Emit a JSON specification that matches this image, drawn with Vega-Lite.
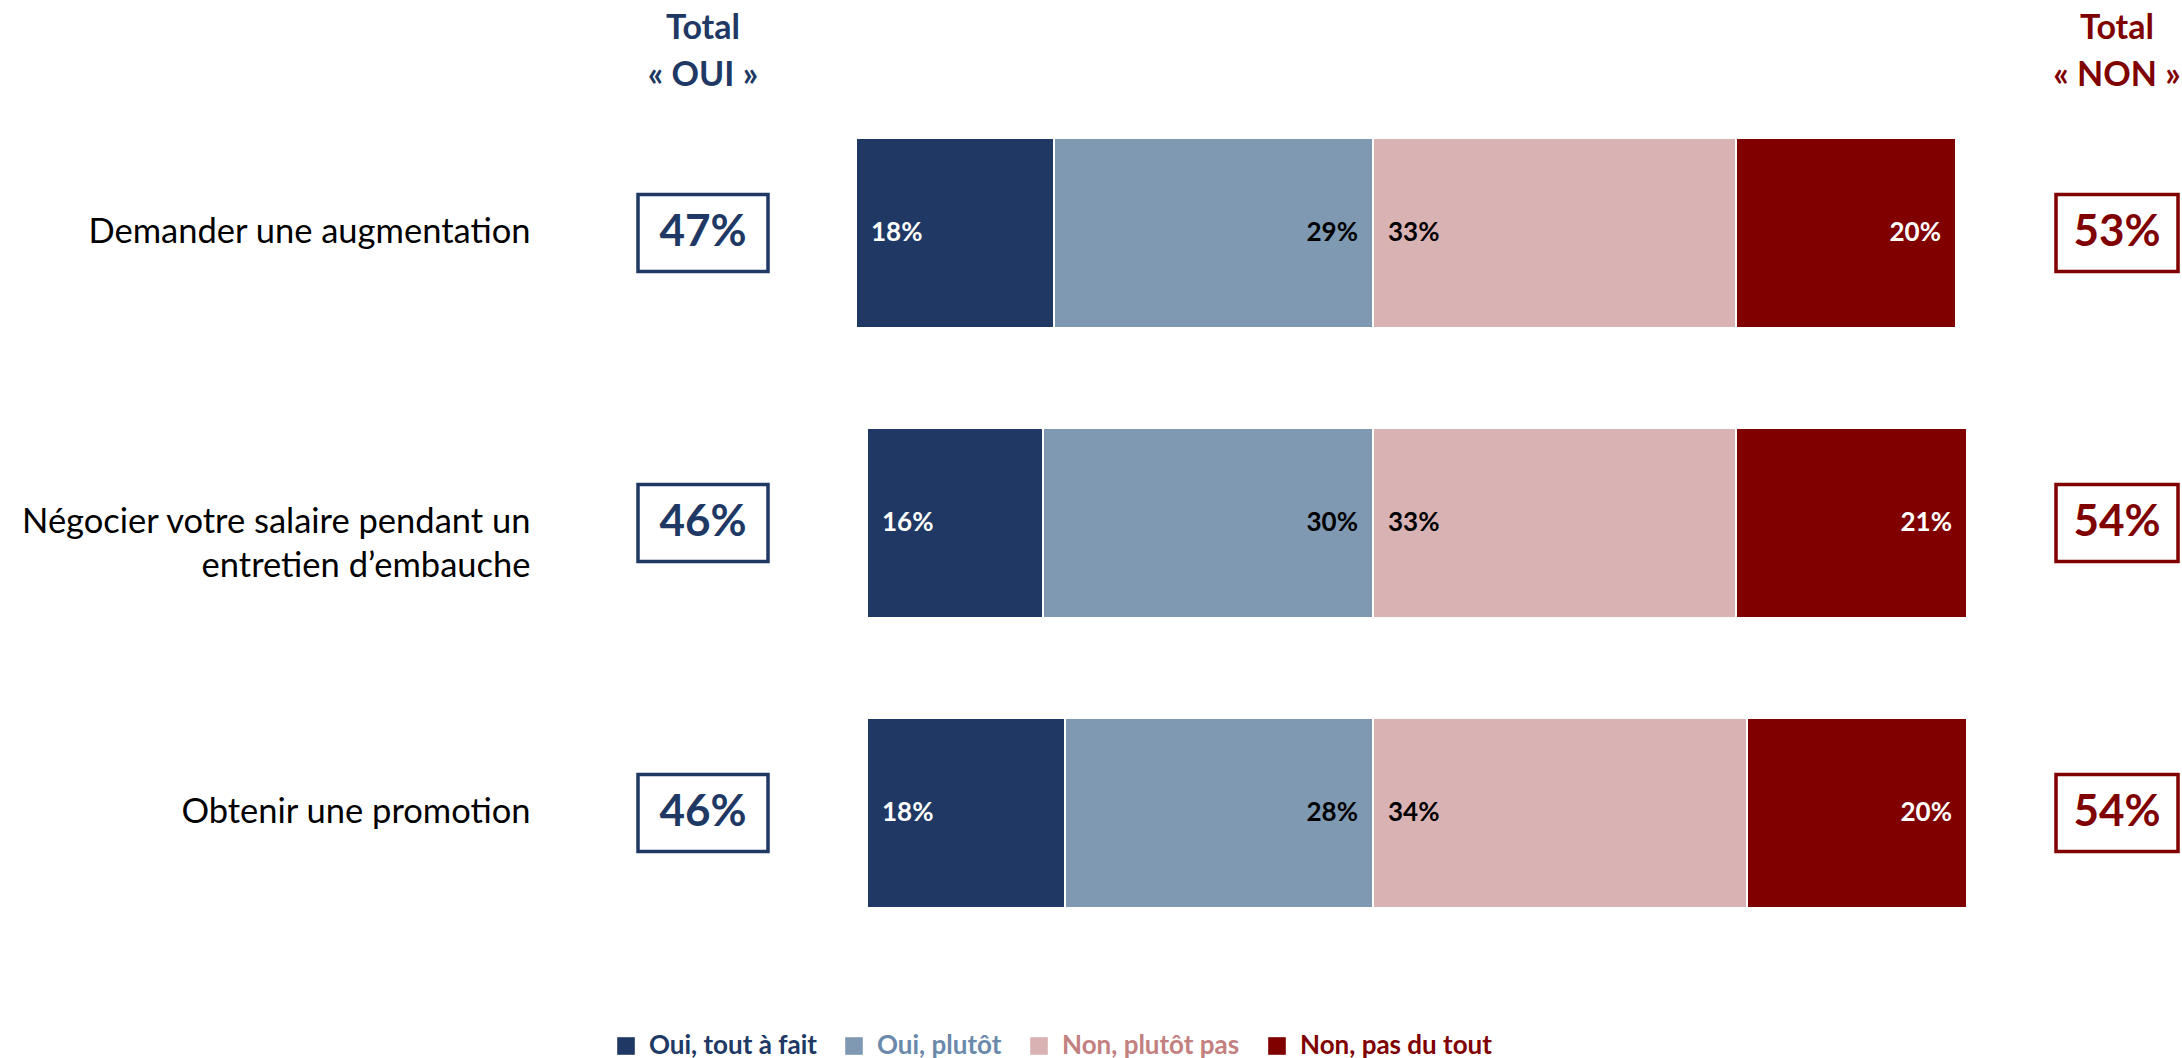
{
  "$schema": "https://vega.github.io/schema/vega-lite/v6.json",
  "background": "white",
  "padding": {"left": 0, "top": 12, "right": 0, "bottom": 0},
  "config": {
    "font": "Lato",
    "view": {"stroke": null},
    "concat": {"spacing": 85},
    "legend": {
      "title": null, "orient": "none", "legendX": -25, "legendY": 920, "direction": "horizontal",
      "symbolType": "square", "symbolSize": 310, "symbolStrokeWidth": 0,
      "labelFontSize": 26, "labelFontWeight": "bold", "labelOffset": 10, "columnPadding": 24, "labelLimit": 400
    }
  },
  "datasets": {
    "totals": [
      {"question": "Demander une augmentation", "oui": 47, "non": 53},
      {"question": "Négocier votre salaire pendant un entretien d’embauche", "oui": 46, "non": 54},
      {"question": "Obtenir une promotion", "oui": 46, "non": 54}
    ],
    "detail": [
      {"question": "Demander une augmentation", "side": "Oui", "category": "Oui, tout à fait", "value": 18},
      {"question": "Demander une augmentation", "side": "Oui", "category": "Oui, plutôt", "value": 29},
      {"question": "Demander une augmentation", "side": "Non", "category": "Non, plutôt pas", "value": 33},
      {"question": "Demander une augmentation", "side": "Non", "category": "Non, pas du tout", "value": 20},
      {"question": "Négocier votre salaire pendant un entretien d’embauche", "side": "Oui", "category": "Oui, tout à fait", "value": 16},
      {"question": "Négocier votre salaire pendant un entretien d’embauche", "side": "Oui", "category": "Oui, plutôt", "value": 30},
      {"question": "Négocier votre salaire pendant un entretien d’embauche", "side": "Non", "category": "Non, plutôt pas", "value": 33},
      {"question": "Négocier votre salaire pendant un entretien d’embauche", "side": "Non", "category": "Non, pas du tout", "value": 21},
      {"question": "Obtenir une promotion", "side": "Oui", "category": "Oui, tout à fait", "value": 18},
      {"question": "Obtenir une promotion", "side": "Oui", "category": "Oui, plutôt", "value": 28},
      {"question": "Obtenir une promotion", "side": "Non", "category": "Non, plutôt pas", "value": 34},
      {"question": "Obtenir une promotion", "side": "Non", "category": "Non, pas du tout", "value": 20}
    ]
  },
  "hconcat": [
    {
      "width": 130,
      "height": 820,
      "data": {"name": "totals"},
      "transform": [{"calculate": "datum.oui + '%'", "as": "label"}],
      "title": {"text": ["Total", "« OUI »"], "color": "#203864", "fontSize": 34, "fontWeight": "bold", "lineHeight": 47, "offset": 20, "anchor": "middle"},
      "encoding": {
        "y": {
          "field": "question", "type": "nominal", "sort": null,
          "scale": {"domain": ["Demander une augmentation", "Négocier votre salaire pendant un entretien d’embauche", "Obtenir une promotion"], "paddingInner": 0.345, "paddingOuter": 0.086},
          "axis": {
            "title": null, "domain": false, "ticks": false,
            "labelPadding": 108, "labelFontSize": 34.5, "labelColor": "black", "labelAlign": "right",
            "labelLimit": 1000, "labelLineHeight": 44, "minExtent": 638, "maxExtent": 638,
            "labelExpr": "datum.value === 'Négocier votre salaire pendant un entretien d’embauche' ? ['Négocier votre salaire pendant un', 'entretien d’embauche'] : datum.label"
          }
        }
      },
      "layer": [
        {"mark": {"type": "bar", "orient": "horizontal", "fill": "white", "stroke": "#203864", "strokeWidth": 3.5, "size": 77}},
        {"mark": {"type": "text", "fontSize": 44, "fontWeight": "bold", "color": "#203864", "baseline": "middle"}, "encoding": {"text": {"field": "label"}}}
      ]
    },
    {
      "width": 1111,
      "height": 820,
      "data": {"name": "detail"},
      "encoding": {
        "y": {
          "field": "question", "type": "nominal", "sort": null,
          "scale": {"domain": ["Demander une augmentation", "Négocier votre salaire pendant un entretien d’embauche", "Obtenir une promotion"], "paddingInner": 0.345, "paddingOuter": 0.086},
          "axis": null
        }
      },
      "layer": [
        {
          "transform": [
            {"filter": "datum.side === 'Oui'"},
            {"stack": "value", "groupby": ["question"], "sort": [{"field": "category", "order": "ascending"}], "as": ["s0", "s1"]},
            {"calculate": "datum.value + '%'", "as": "label"}
          ],
          "layer": [
            {
              "mark": {"type": "bar", "stroke": "white", "strokeWidth": 2},
              "encoding": {
                "x": {"field": "s0", "type": "quantitative", "scale": {"domain": [-54, 47], "reverse": true, "nice": false, "zero": false}, "axis": null},
                "x2": {"field": "s1"},
                "color": {
                  "field": "category", "type": "nominal",
                  "scale": {"domain": ["Oui, tout à fait", "Oui, plutôt", "Non, plutôt pas", "Non, pas du tout"], "range": ["#203864", "#7f99b2", "#d9b3b3", "#800000"]},
                  "legend": {
                    "labelColor": {"expr": "datum.value === 'Oui, tout à fait' ? '#203864' : datum.value === 'Oui, plutôt' ? '#6a89ab' : datum.value === 'Non, plutôt pas' ? '#c2807f' : '#800000'"}
                  }
                }
              }
            },
            {
              "transform": [{"filter": "datum.category === 'Oui, tout à fait'"}],
              "mark": {"type": "text", "align": "left", "dx": 15, "fontSize": 26, "fontWeight": "bold", "color": "white", "baseline": "middle"},
              "encoding": {"x": {"field": "s1", "type": "quantitative"}, "text": {"field": "label"}}
            },
            {
              "transform": [{"filter": "datum.category === 'Oui, plutôt'"}],
              "mark": {"type": "text", "align": "right", "dx": -15, "fontSize": 26, "fontWeight": "bold", "color": "black", "baseline": "middle"},
              "encoding": {"x": {"field": "s0", "type": "quantitative"}, "text": {"field": "label"}}
            }
          ]
        },
        {
          "transform": [
            {"filter": "datum.side === 'Non'"},
            {"stack": "value", "groupby": ["question"], "sort": [{"field": "category", "order": "descending"}], "as": ["s0", "s1"]},
            {"calculate": "datum.value + '%'", "as": "label"}
          ],
          "layer": [
            {
              "mark": {"type": "bar", "stroke": "white", "strokeWidth": 2},
              "encoding": {
                "x": {"field": "s0", "type": "quantitative", "scale": {"domain": [-47, 54], "nice": false, "zero": false}, "axis": null},
                "x2": {"field": "s1"},
                "color": {
                  "field": "category", "type": "nominal",
                  "legend": {
                    "labelColor": {"expr": "datum.value === 'Oui, tout à fait' ? '#203864' : datum.value === 'Oui, plutôt' ? '#6a89ab' : datum.value === 'Non, plutôt pas' ? '#c2807f' : '#800000'"}
                  }
                }
              }
            },
            {
              "transform": [{"filter": "datum.category === 'Non, plutôt pas'"}],
              "mark": {"type": "text", "align": "left", "dx": 15, "fontSize": 26, "fontWeight": "bold", "color": "black", "baseline": "middle"},
              "encoding": {"x": {"field": "s0", "type": "quantitative"}, "text": {"field": "label"}}
            },
            {
              "transform": [{"filter": "datum.category === 'Non, pas du tout'"}],
              "mark": {"type": "text", "align": "right", "dx": -15, "fontSize": 26, "fontWeight": "bold", "color": "white", "baseline": "middle"},
              "encoding": {"x": {"field": "s1", "type": "quantitative"}, "text": {"field": "label"}}
            }
          ]
        }
      ],
      "resolve": {"scale": {"x": "independent"}}
    },
    {
      "width": 122,
      "height": 820,
      "data": {"name": "totals"},
      "transform": [{"calculate": "datum.non + '%'", "as": "label"}],
      "title": {"text": ["Total", "« NON »"], "color": "#800000", "fontSize": 34, "fontWeight": "bold", "lineHeight": 47, "offset": 20, "anchor": "middle"},
      "encoding": {
        "y": {
          "field": "question", "type": "nominal", "sort": null,
          "scale": {"domain": ["Demander une augmentation", "Négocier votre salaire pendant un entretien d’embauche", "Obtenir une promotion"], "paddingInner": 0.345, "paddingOuter": 0.086},
          "axis": null
        }
      },
      "layer": [
        {"mark": {"type": "bar", "orient": "horizontal", "fill": "white", "stroke": "#800000", "strokeWidth": 3.5, "size": 77}},
        {"mark": {"type": "text", "fontSize": 44, "fontWeight": "bold", "color": "#800000", "baseline": "middle"}, "encoding": {"text": {"field": "label"}}}
      ]
    }
  ]
}
